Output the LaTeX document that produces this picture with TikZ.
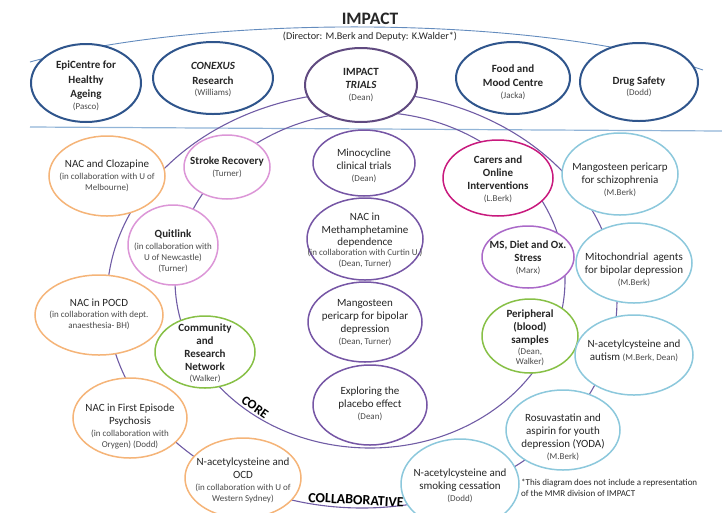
\documentclass[tikz,border=0pt]{standalone}
\usepackage{fontspec}
\setmainfont{Carlito}
\usetikzlibrary{shapes.geometric}
\definecolor{topblue}{RGB}{47,85,140}
\definecolor{trialpurple}{RGB}{96,74,128}
\definecolor{corepurple}{RGB}{118,86,165}
\definecolor{ringpurple}{RGB}{112,92,165}
\definecolor{pinkc}{RGB}{220,150,215}
\definecolor{orchid}{RGB}{170,105,200}
\definecolor{magentac}{RGB}{200,25,125}
\definecolor{greenc}{RGB}{135,192,70}
\definecolor{orangec}{RGB}{245,180,120}
\definecolor{lblue}{RGB}{140,200,220}
\definecolor{hblue}{RGB}{145,180,215}
\definecolor{arcblue}{RGB}{100,140,190}
\definecolor{txt}{RGB}{38,38,38}
\definecolor{nmgray}{RGB}{75,75,75}
\newcommand\smtxt[1]{{\fontsize{9}{11}\selectfont\mdseries\color{nmgray}#1}}
\tikzset{
  ell/.style={ellipse, draw=#1, fill=white, line width=1.5pt, inner sep=0pt},
  topell/.style={ellipse, draw=#1, fill=white, line width=2pt, inner sep=0pt},
  lab/.style={align=center, text=txt, inner sep=0pt, font=\fontsize{11}{13}\selectfont},
  toplab/.style={align=center, text=txt, inner sep=0pt, font=\fontsize{11}{14.5}\selectfont\bfseries},
  ring/.style={draw=ringpurple, line width=1.1pt},
  ringlab/.style={font=\fontsize{13}{15}\selectfont\bfseries, text=black, inner sep=0pt}
}
\begin{document}
\begin{tikzpicture}[x=1pt,y=-1pt]
\useasboundingbox (0,0) rectangle (722,512);
% background shapes
\draw[arcblue, line width=0.9pt] (30,62) .. controls (200,14) and (540,14) .. (703,70);
\draw[hblue, line width=1.2pt] (30,127) -- (722,131);
\draw[ring] (362,300) ellipse [x radius=255pt, y radius=208pt];
\draw[ring] (370,280) ellipse [x radius=195pt, y radius=168pt];
% title
\node[font=\fontsize{17.5}{20}\selectfont\bfseries, text=txt, inner sep=0pt] (title) at (370,19) {IMPACT};
\node[font=\fontsize{10.2}{12}\selectfont, text=txt, inner sep=0pt] (subtitle) at (370,37) {(Director: M.Berk and Deputy: K.Walder*)};
% ring labels
\node[ringlab, rotate=-35] (corelab) at (255,407) {CORE};
\node[ringlab, font=\fontsize{14}{16}\selectfont\bfseries, rotate=-3] (collab) at (356,500) {COLLABORATIVE};
% top row
\node[topell=topblue, minimum width=110pt, minimum height=78pt] (epi) at (86,83) {};
\node[toplab] (epi-t) at (86,86) {EpiCentre for\\ Healthy\\ Ageing\\[-3pt] \smtxt{(Pasco)}};
\node[topell=topblue, minimum width=120pt, minimum height=72pt] (conexus) at (213,78) {};
\node[toplab] (conexus-t) at (213,80) {\textit{CONEXUS}\\ Research\\[-3pt] \smtxt{(Williams)}};
\node[topell=trialpurple, minimum width=112pt, minimum height=74pt] (trials) at (361,85) {};
\node[toplab] (trials-t) at (361,85) {IMPACT\\[-1pt] \textit{TRIALS}\\[-3pt] \smtxt{(Dean)}};
\node[topell=topblue, minimum width=114pt, minimum height=72pt] (food) at (513,78) {};
\node[toplab] (food-t) at (513,82) {Food and\\ Mood Centre\\[-3pt] \smtxt{(Jacka)}};
\node[topell=topblue, minimum width=118pt, minimum height=78pt] (drug) at (639,82) {};
\node[toplab] (drug-t) at (639,87) {Drug Safety\\[-3pt] \smtxt{(Dodd)}};
% left column (collaborative)
\node[ell=orangec, minimum width=116pt, minimum height=80pt] (cloz) at (107,176) {};
\node[lab] (cloz-t) at (107,176) {NAC and Clozapine\\[-1pt] \smtxt{(in collaboration with U of}\\[-2pt] \smtxt{Melbourne)}};
\node[ell=orangec, minimum width=128pt, minimum height=80pt] (pocd) at (99,315) {};
\node[lab] (pocd-t) at (99,314) {NAC in POCD\\[-2pt] \smtxt{(in collaboration with dept.}\\[-2pt] \smtxt{anaesthesia- BH)}};
\node[ell=orangec, minimum width=114pt, minimum height=80pt] (fep) at (130,418) {};
\node[lab] (fep-t) at (130,426) {NAC in First Episode\\ Psychosis\\[-1pt] \smtxt{(in collaboration with}\\[-2pt] \smtxt{Orygen) (Dodd)}};
\node[ell=orangec, minimum width=116pt, minimum height=80pt] (ocd) at (243,478) {};
\node[lab] (ocd-t) at (243,480) {N-acetylcysteine and\\ OCD\\[-1pt] \smtxt{(in collaboration with U of}\\[-2pt] \smtxt{Western Sydney)}};
% pink / green core left
\node[ell=pinkc, minimum width=86pt, minimum height=64pt] (stroke) at (227,167) {};
\node[lab] (stroke-t) at (227,167) {\textbf{Stroke Recovery}\\[-1pt] \smtxt{(Turner)}};
\node[ell=pinkc, minimum width=90pt, minimum height=80pt] (quit) at (173,245) {};
\node[lab] (quit-t) at (173,251) {\textbf{Quitlink}\\[-1pt] \smtxt{(in collaboration with}\\[-2pt] \smtxt{U of Newcastle)}\\[-2pt] \smtxt{(Turner)}};
\node[ell=greenc, minimum width=100pt, minimum height=72pt] (comm) at (205,352) {};
\node[lab] (comm-t) at (205,353) {\textbf{Community}\\ \textbf{and}\\ \textbf{Research}\\ \textbf{Network}\\[-2pt] \smtxt{(Walker)}};
% center column
\node[ell=corepurple, minimum width=102pt, minimum height=66pt] (mino) at (364,163) {};
\node[lab] (mino-t) at (364,166) {Minocycline\\ clinical trials\\[-1pt] \smtxt{(Dean)}};
\node[ell=corepurple, minimum width=116pt, minimum height=82pt] (meth) at (365,239) {};
\node[lab] (meth-t) at (365,240) {NAC in\\ Methamphetamine\\[-1pt] dependence\\[-3pt] \smtxt{(in collaboration with Curtin U.)}\\[-2pt] \smtxt{(Dean, Turner)}};
\node[ell=corepurple, minimum width=114pt, minimum height=80pt] (mang) at (365,322) {};
\node[lab] (mang-t) at (365,323) {Mangosteen\\ pericarp for bipolar\\ depression\\[-1pt] \smtxt{(Dean, Turner)}};
\node[ell=corepurple, minimum width=114pt, minimum height=80pt] (plac) at (370,405) {};
\node[lab] (plac-t) at (370,404) {Exploring the\\ placebo effect\\[-1pt] \smtxt{(Dean)}};
% right core
\node[ell=magentac, minimum width=110pt, minimum height=76pt] (carers) at (498,178) {};
\node[lab] (carers-t) at (498,179) {\textbf{Carers and}\\ \textbf{Online}\\ \textbf{Interventions}\\[-1pt] \smtxt{(L.Berk)}};
\node[ell=orchid, minimum width=92pt, minimum height=62pt] (ms) at (528,257) {};
\node[lab] (ms-t) at (528,258) {\textbf{MS, Diet and Ox.}\\ \textbf{Stress}\\[-1pt] \smtxt{(Marx)}};
\node[ell=greenc, minimum width=96pt, minimum height=74pt] (periph) at (530,336) {};
\node[lab] (periph-t) at (530,338) {\textbf{Peripheral}\\ \textbf{(blood)}\\ \textbf{samples}\\[-2pt] \smtxt{(Dean,}\\[-3pt] \smtxt{Walker)}};
% right column (collaborative)
\node[ell=lblue, minimum width=116pt, minimum height=82pt] (schiz) at (620,174) {};
\node[lab] (schiz-t) at (620,180) {Mangosteen pericarp\\ for schizophrenia\\[-1pt] \smtxt{(M.Berk)}};
\node[ell=lblue, minimum width=116pt, minimum height=80pt] (mito) at (634,263) {};
\node[lab] (mito-t) at (634,270) {Mitochondrial\ \ agents\\ for bipolar depression\\[-1pt] \smtxt{(M.Berk)}};
\node[ell=lblue, minimum width=118pt, minimum height=80pt] (autism) at (634,355) {};
\node[lab] (autism-t) at (634,351) {N-acetylcysteine and\\ autism \smtxt{(M.Berk, Dean)}};
\node[ell=lblue, minimum width=114pt, minimum height=80pt] (rosu) at (563,430) {};
\node[lab] (rosu-t) at (563,437) {Rosuvastatin and\\ aspirin for youth\\ depression (YODA)\\[-1pt] \smtxt{(M.Berk)}};
\node[ell=lblue, minimum width=118pt, minimum height=90pt] (smok) at (460,484) {};
\node[lab] (smok-t) at (460,486) {N-acetylcysteine and\\ smoking cessation\\[-1pt] \smtxt{(Dodd)}};
% footnote
\node[anchor=west, align=left, inner sep=0pt, font=\fontsize{9}{10.5}\selectfont, text=txt] (note) at (521,488) {*This diagram does not include a representation\\ of the MMR division of IMPACT};
\end{tikzpicture}
\end{document}
